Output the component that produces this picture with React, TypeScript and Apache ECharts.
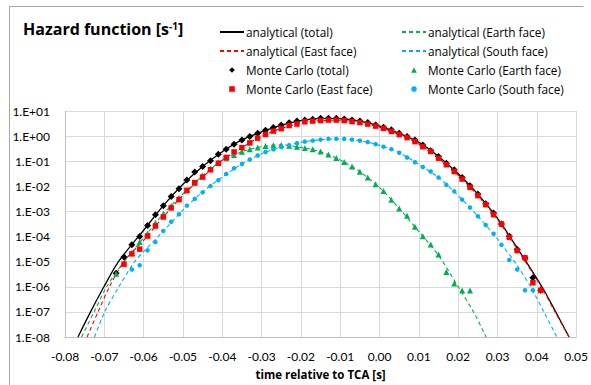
import React, { useEffect, useRef } from "react";
import * as echarts from "echarts";

// Values are [time relative to TCA (s), log10 of hazard (1/s)].
const anaTotal = [
  [-0.0767, -8], [-0.0735, -7], [-0.0701, -6], [-0.0664, -5], [-0.06, -3.75], [-0.055, -2.77],
  [-0.05, -1.92], [-0.045, -1.21], [-0.04, -0.62], [-0.035, -0.15], [-0.03, 0.17], [-0.025, 0.44],
  [-0.02, 0.62], [-0.015, 0.71], [-0.01, 0.7], [-0.005, 0.6], [0.0, 0.4], [0.005, 0.11],
  [0.01, -0.25], [0.015, -0.81], [0.02, -1.5], [0.025, -2.31], [0.03, -3.28], [0.035, -4.45],
  [0.0413, -6], [0.0448, -7], [0.0482, -8],
];
const anaEarth = [
  [-0.0758, -8], [-0.0726, -7], [-0.0694, -6], [-0.065, -5.0], [-0.06, -4.05], [-0.055, -3.1],
  [-0.05, -2.3], [-0.045, -1.58], [-0.04, -0.96], [-0.035, -0.62], [-0.03, -0.42], [-0.025, -0.35],
  [-0.02, -0.45], [-0.015, -0.62], [-0.01, -0.95], [-0.005, -1.42], [0.0, -2.05], [0.005, -2.88],
  [0.01, -3.8], [0.015, -4.75], [0.02, -6.0], [0.0239, -7], [0.0271, -8],
];
const anaEast = [
  [-0.0744, -8], [-0.0716, -7], [-0.0687, -6], [-0.065, -5.0], [-0.06, -4.15], [-0.055, -3.22],
  [-0.05, -2.35], [-0.045, -1.63], [-0.04, -0.96], [-0.035, -0.46], [-0.03, 0.0], [-0.025, 0.3],
  [-0.02, 0.52], [-0.015, 0.62], [-0.01, 0.63], [-0.005, 0.54], [0.0, 0.35], [0.005, 0.06],
  [0.01, -0.32], [0.015, -0.88], [0.02, -1.56], [0.025, -2.37], [0.03, -3.32], [0.035, -4.5],
  [0.0413, -6.05], [0.0448, -7.05], [0.0482, -8],
];
const anaSouth = [
  [-0.0725, -8], [-0.0699, -7], [-0.0663, -6], [-0.0623, -5], [-0.06, -4.6], [-0.055, -3.78],
  [-0.05, -2.95], [-0.045, -2.22], [-0.04, -1.63], [-0.035, -1.11], [-0.03, -0.7], [-0.025, -0.44],
  [-0.02, -0.25], [-0.015, -0.14], [-0.01, -0.11], [-0.005, -0.18], [0.0, -0.37], [0.005, -0.66],
  [0.01, -1.13], [0.015, -1.65], [0.02, -2.37], [0.025, -3.19], [0.03, -4.1], [0.035, -5.15],
  [0.0384, -6], [0.0418, -7], [0.0451, -8],
];

const mcTotal = [
  [-0.067, -5.46], [-0.065, -4.81], [-0.063, -4.33], [-0.061, -4.0], [-0.059, -3.56], [-0.057, -3.13],
  [-0.055, -2.77], [-0.053, -2.4], [-0.051, -2.1], [-0.049, -1.75], [-0.047, -1.43], [-0.045, -1.21],
  [-0.043, -0.98], [-0.041, -0.72], [-0.039, -0.52], [-0.037, -0.32], [-0.035, -0.15], [-0.033, -0.02],
  [-0.031, 0.11], [-0.029, 0.23], [-0.027, 0.34], [-0.025, 0.44], [-0.023, 0.53], [-0.021, 0.6],
  [-0.019, 0.64], [-0.017, 0.67], [-0.015, 0.71], [-0.013, 0.71], [-0.011, 0.71], [-0.009, 0.68],
  [-0.007, 0.64], [-0.005, 0.6], [-0.003, 0.54], [-0.001, 0.44], [0.001, 0.35], [0.003, 0.25],
  [0.005, 0.11], [0.007, -0.02], [0.009, -0.15], [0.011, -0.35], [0.013, -0.58], [0.015, -0.81],
  [0.017, -1.08], [0.019, -1.34], [0.021, -1.65], [0.023, -1.98], [0.025, -2.31], [0.027, -2.69],
  [0.029, -3.06], [0.031, -3.5], [0.033, -3.99], [0.035, -4.52], [0.037, -4.85], [0.039, -5.64],
  [0.041, -6.14],
];
const mcEarth = [
  [-0.067, -5.48], [-0.063, -4.65], [-0.061, -4.22], [-0.059, -3.88], [-0.057, -3.45], [-0.055, -3.1],
  [-0.053, -2.78], [-0.051, -2.45], [-0.049, -2.16], [-0.047, -1.87], [-0.045, -1.57], [-0.043, -1.3],
  [-0.041, -1.05], [-0.039, -0.88], [-0.037, -0.75], [-0.035, -0.62], [-0.033, -0.52], [-0.031, -0.45],
  [-0.029, -0.39], [-0.027, -0.36], [-0.025, -0.35], [-0.023, -0.38], [-0.021, -0.42], [-0.019, -0.47],
  [-0.017, -0.52], [-0.015, -0.61], [-0.013, -0.73], [-0.011, -0.87], [-0.009, -1.03], [-0.007, -1.21],
  [-0.005, -1.42], [-0.003, -1.65], [-0.001, -1.92], [0.001, -2.19], [0.003, -2.53], [0.005, -2.88],
  [0.007, -3.17], [0.009, -3.61], [0.011, -3.99], [0.013, -4.32], [0.015, -4.71], [0.017, -5.41],
  [0.019, -5.87], [0.021, -6.15], [0.023, -6.15],
];
const mcEast = [
  [-0.065, -5.1], [-0.063, -4.69], [-0.061, -4.5], [-0.059, -3.98], [-0.057, -3.58], [-0.055, -3.22],
  [-0.053, -2.86], [-0.051, -2.53], [-0.049, -2.16], [-0.047, -1.85], [-0.045, -1.63], [-0.043, -1.34],
  [-0.041, -1.08], [-0.039, -0.85], [-0.037, -0.63], [-0.035, -0.46], [-0.033, -0.27], [-0.031, -0.08],
  [-0.029, 0.07], [-0.027, 0.2], [-0.025, 0.3], [-0.023, 0.42], [-0.021, 0.48], [-0.019, 0.57],
  [-0.017, 0.6], [-0.015, 0.62], [-0.013, 0.64], [-0.011, 0.64], [-0.009, 0.62], [-0.007, 0.58],
  [-0.005, 0.54], [-0.003, 0.48], [-0.001, 0.4], [0.001, 0.31], [0.003, 0.19], [0.005, 0.06],
  [0.007, -0.06], [0.009, -0.22], [0.011, -0.42], [0.013, -0.61], [0.015, -0.88], [0.017, -1.14],
  [0.019, -1.41], [0.021, -1.71], [0.023, -2.04], [0.025, -2.37], [0.027, -2.73], [0.029, -3.13],
  [0.031, -3.5], [0.033, -4.03], [0.035, -4.56], [0.037, -4.85], [0.039, -5.84], [0.041, -6.14],
];
const mcSouth = [
  [-0.063, -5.31], [-0.061, -5.14], [-0.059, -4.55], [-0.057, -4.22], [-0.055, -3.78], [-0.053, -3.41],
  [-0.051, -3.11], [-0.049, -2.77], [-0.047, -2.5], [-0.045, -2.24], [-0.043, -1.99], [-0.041, -1.76],
  [-0.039, -1.51], [-0.037, -1.28], [-0.035, -1.11], [-0.033, -0.93], [-0.031, -0.77], [-0.029, -0.63],
  [-0.027, -0.53], [-0.025, -0.44], [-0.023, -0.36], [-0.021, -0.28], [-0.019, -0.22], [-0.017, -0.18],
  [-0.015, -0.14], [-0.013, -0.11], [-0.011, -0.11], [-0.009, -0.11], [-0.007, -0.14], [-0.005, -0.18],
  [-0.003, -0.24], [-0.001, -0.32], [0.001, -0.42], [0.003, -0.52], [0.005, -0.66], [0.007, -0.85],
  [0.009, -1.04], [0.011, -1.23], [0.013, -1.41], [0.015, -1.65], [0.017, -1.94], [0.019, -2.2],
  [0.021, -2.53], [0.023, -2.84], [0.025, -3.19], [0.027, -3.54], [0.029, -3.89], [0.031, -4.33],
  [0.033, -4.93], [0.035, -5.31], [0.037, -6.14], [0.039, -6.14],
];

const seriesNames = [
  "analytical (total)", "analytical (Earth face)", "analytical (East face)", "analytical (South face)",
  "Monte Carlo (total)", "Monte Carlo (Earth face)", "Monte Carlo (East face)", "Monte Carlo (South face)",
];
const legendCol1 = [seriesNames[0], seriesNames[2], seriesNames[4], seriesNames[6]];
const legendCol2 = [seriesNames[1], seriesNames[3], seriesNames[5], seriesNames[7]];

const titleText = "Hazard function [s{sup|-1}]";
const xAxisTitle = "time relative to TCA [s]";

const AXIS_FONT = "Lato, 'Open Sans', sans-serif";
const TEXT_FONT = "'Open Sans', Lato, sans-serif";
const BLACK = "#000000";
const GREEN = "#00b050";
const RED = "#ff0000";
const BLUE = "#00b0f0";

const toPoints = (arr: number[][]) => arr.map(([t, e]) => [t, Math.pow(10, e)]);

const fmtY = (v: number) => {
  const e = Math.round(Math.log10(v));
  const s = e >= 0 ? "+" : "-";
  const a = Math.abs(e);
  return `1.E${s}${a < 10 ? "0" : ""}${a}`;
};
const fmtX = (v: number) => (Math.abs(v) < 1e-9 ? "0.00" : v.toFixed(2));

export default function App() {
  const ref = useRef<HTMLDivElement>(null);
  useEffect(() => {
    if (!ref.current) return;
    const chart = echarts.init(ref.current, undefined, { renderer: "svg" });
    const lineSeries = (name: string, data: number[][], color: string, dashed: boolean) => ({
      name,
      type: "line",
      data: toPoints(data),
      smooth: 0.3,
      symbol: "none",
      showSymbol: false,
      clip: true,
      lineStyle: { color, width: dashed ? 1.1 : 1.3, type: dashed ? [4, 3] : "solid" },
      itemStyle: { color },
      z: 2,
    });
    // Monte Carlo points: markers only (line series with an invisible line, so the legend shows a small marker)
    const markerSeries = (name: string, data: number[][], color: string, symbol: string, size: number) => ({
      name,
      type: "line",
      data: toPoints(data),
      symbol,
      symbolSize: size,
      showSymbol: true,
      showAllSymbol: true,
      clip: true,
      lineStyle: { width: 0, color },
      itemStyle: { color, opacity: 1, borderWidth: 0 },
      z: 3,
    });
    const legendBase = {
      orient: "vertical",
      itemWidth: 24,
      itemHeight: 7,
      itemGap: 3,
      padding: 0,
      textStyle: { fontFamily: TEXT_FONT, fontSize: 11.8, color: "#000", padding: [0, 0, 0, -3], lineHeight: 16 },
      selectedMode: false,
    };
    const legendData = (names: string[]) =>
      names.map((n) => (n.startsWith("analytical") ? { name: n, itemStyle: { opacity: 0 } } : { name: n }));

    chart.setOption({
      animation: false,
      backgroundColor: "#ffffff",
      title: {
        text: titleText,
        left: 23,
        top: 21,
        padding: 0,
        textStyle: {
          fontFamily: TEXT_FONT,
          fontSize: 16,
          fontWeight: "bold",
          color: "#000",
          rich: {
            sup: { fontFamily: TEXT_FONT, fontSize: 10, fontWeight: "bold", color: "#000", verticalAlign: "top", lineHeight: 9 },
          },
        },
      },
      legend: [
        { ...legendBase, left: 219, top: 24, data: legendData(legendCol1) },
        { ...legendBase, left: 401, top: 24, data: legendData(legendCol2) },
      ],
      graphic: [
        {
          type: "polyline",
          shape: { points: [[9.5, 400], [9.5, 6.5], [583.5, 6.5]] },
          style: { stroke: "#a6a6a6", lineWidth: 1, fill: "none" },
          silent: true,
        },
      ],
      grid: { left: 65, right: 13, top: 111, bottom: 47, containLabel: false },
      xAxis: {
        type: "value",
        min: -0.08,
        max: 0.05,
        interval: 0.01,
        name: xAxisTitle,
        nameLocation: "middle",
        nameGap: 31,
        nameTextStyle: { fontFamily: TEXT_FONT, fontSize: 11.5, fontWeight: "bold", color: "#000" },
        axisLine: { show: true, onZero: false, lineStyle: { color: "#bfbfbf", width: 1 } },
        axisTick: { show: false },
        axisLabel: { formatter: fmtX, fontFamily: AXIS_FONT, fontSize: 12, color: "#000", margin: 13 },
        splitLine: { show: true, lineStyle: { color: "#d9d9d9", width: 1 } },
      },
      yAxis: {
        type: "log",
        logBase: 10,
        min: 1e-8,
        max: 10,
        axisLine: { show: true, onZero: false, lineStyle: { color: "#bfbfbf", width: 1 } },
        axisTick: { show: false },
        axisLabel: { formatter: fmtY, fontFamily: AXIS_FONT, fontSize: 12, color: "#000", margin: 15 },
        splitLine: { show: true, lineStyle: { color: "#d9d9d9", width: 1 } },
        minorTick: { show: false },
        minorSplitLine: { show: false },
      },
      series: [
        lineSeries(seriesNames[0], anaTotal, BLACK, false),
        lineSeries(seriesNames[1], anaEarth, GREEN, true),
        lineSeries(seriesNames[2], anaEast, RED, true),
        lineSeries(seriesNames[3], anaSouth, BLUE, true),
        markerSeries(seriesNames[4], mcTotal, BLACK, "diamond", 7),
        markerSeries(seriesNames[5], mcEarth, GREEN, "triangle", 6),
        markerSeries(seriesNames[6], mcEast, RED, "rect", 5.5),
        markerSeries(seriesNames[7], mcSouth, BLUE, "circle", 4.5),
      ],
    });
    return () => chart.dispose();
  }, []);
  return <div ref={ref} style={{ width: 591, height: 385, position: "absolute", left: 0, top: 0 }} />;
}
